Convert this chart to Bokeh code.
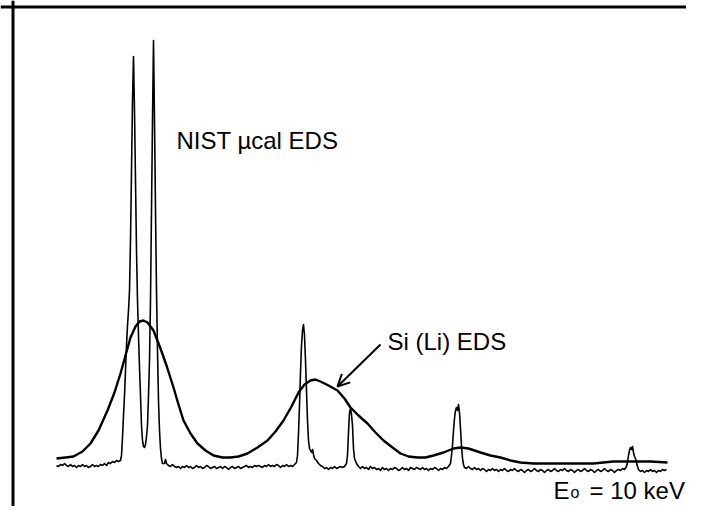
from bokeh.plotting import figure
from bokeh.models import Range1d, Span, Arrow, OpenHead, Label
from bokeh.embed import file_html
from bokeh.resources import INLINE

# ---------------- data (channel, counts) ----------------
# NIST microcalorimeter EDS spectrum
nist_channel = (
    list(range(0, 66, 2))
    + list(range(65, 107))
    + [108, 109, 110, 112]
    + list(range(114, 240, 2))
    + [240, 241, 242, 243, 244, 245, 246, 247, 248, 249, 250, 251, 252, 253, 254,
       255, 256, 257, 258, 260, 262, 264]
    + list(range(266, 290, 2))
    + [290, 291, 292, 293, 294, 295, 296, 297, 298, 300]
    + list(range(302, 394, 2))
    + list(range(394, 409))
    + list(range(410, 570, 2))
    + list(range(570, 583))
    + list(range(584, 612, 2))
)
nist_counts = (
    [15, 14, 16, 15, 17, 15, 14, 16, 14, 15, 13, 15, 14, 16, 14, 15, 13, 14, 16, 14,
     15, 14, 16, 15, 17, 15, 18, 17, 19, 18, 20, 19, 20]
    + [25, 43, 65, 85, 110, 135, 155, 170, 190, 240, 310, 380, 424, 370, 300, 230,
       180, 145, 113, 85, 55, 40, 34, 33, 36, 44, 55, 85, 120, 180, 270, 360, 440,
       360, 270, 190, 130, 80, 50, 32, 22, 17]
    + [17, 21, 17, 15]
    + [14, 16, 14, 13, 14, 12, 14, 13, 15, 13, 14, 12, 13, 15, 13, 14, 12, 13, 15, 14,
       12, 13, 14, 12, 13, 14, 12, 14, 13, 11, 13, 14, 12, 13, 14, 12, 13, 14, 15, 13,
       14, 13, 15, 14, 15, 14, 13, 15, 14, 16, 14, 15, 14, 16, 15, 13, 15, 14, 16, 14,
       15, 14, 16]
    + [18, 25, 47, 75, 108, 135, 150, 156, 145, 120, 90, 60, 40, 32, 30, 28, 31, 26,
       22, 20, 17, 15]
    + [14, 12, 13, 11, 13, 12, 14, 12, 13, 14, 13, 14]
    + [17, 25, 48, 68, 72, 66, 55, 32, 22, 17]
    + [14, 12, 14, 12, 13, 11, 14, 12, 13, 11, 12, 10, 13, 11, 12, 10, 12, 11, 13, 12,
       10, 11, 13, 11, 12, 10, 13, 12, 11, 13, 12, 11, 13, 11, 12, 10, 12, 11, 13, 12,
       10, 12, 11, 13, 12, 14]
    + [17, 25, 35, 50, 62, 70, 73, 70, 76, 68, 52, 35, 22, 16, 13]
    + [12, 14, 12, 11, 13, 11, 12, 10, 12, 11, 9, 11, 10, 12, 10, 11, 9, 11, 10, 12,
       10, 9, 11, 10, 12, 10, 9, 11, 10, 8, 10, 11, 9, 10, 12, 10, 9, 11, 10, 8,
       10, 11, 9, 10, 12, 10, 9, 11, 10, 12, 10, 9, 11, 10, 8, 10, 11, 9, 10, 12,
       10, 9, 11, 10, 8, 10, 11, 9, 10, 12, 10, 9, 11, 10, 8, 10, 11, 10, 12, 11]
    + [14, 18, 25, 30, 33, 31, 34, 28, 24, 22, 18, 14, 11]
    + [9, 10, 8, 10, 9, 11, 9, 10, 8, 10, 9, 11, 10, 11]
)

# Si(Li) EDS spectrum
sili_channel = [0, 9, 17, 26, 34, 42, 51, 58, 64, 69, 74, 79, 83, 87, 91, 97, 104,
                110, 117, 122, 127, 134, 141, 149, 157, 166, 174, 182, 191, 201,
                211, 219, 227, 235, 242, 248, 254, 259, 264, 272, 281, 288, 294,
                302, 311, 319, 327, 336, 344, 352, 361, 369, 377, 387, 397, 404,
                412, 424, 434, 444, 454, 464, 477, 494, 514, 537, 557, 574, 594, 611]
sili_counts = [22, 23, 24, 29, 37, 50, 70, 88, 107, 125, 143, 154, 159, 160, 158,
               150, 132, 115, 93, 76, 60, 47, 37, 30, 25, 23, 23, 24, 27, 33, 40,
               49, 60, 74, 88, 96, 100, 101, 99, 95, 90, 82, 73, 65, 57, 48, 40,
               33, 27, 24, 23, 23, 25, 28, 32, 33, 32, 28, 25, 23, 20, 18, 17, 17,
               17, 17, 19, 19, 19, 18]

label_nist = "NIST µcal EDS"
label_sili = "Si (Li) EDS"
label_e0 = ["E", "o", "= 10 keV"]

# ---------------- figure ----------------
FONT = "Liberation Sans"
p = figure(width=686, height=506, x_range=Range1d(-56, 630), y_range=Range1d(-26, 480),
           x_axis_type=None, y_axis_type=None, output_backend="svg",
           toolbar_location=None, min_border=0)
p.outline_line_color = None
p.background_fill_color = "white"
p.border_fill_color = "white"

# frame lines (left and top)
p.add_layout(Span(location=-43.5, dimension="height", line_color="black", line_width=3))
p.add_layout(Span(location=473.5, dimension="width", line_color="black", line_width=3))

p.line(nist_channel, nist_counts, line_color="black", line_width=1.6, line_join="round")
p.line(sili_channel, sili_counts, line_color="black", line_width=2.4, line_join="round")

p.add_layout(Label(x=120, y=340, text=label_nist, text_font=FONT, text_font_size="24px",
                   text_color="black", text_baseline="alphabetic"))
p.add_layout(Label(x=331, y=139, text=label_sili, text_font=FONT, text_font_size="24px",
                   text_color="black", text_baseline="alphabetic"))
p.add_layout(Arrow(end=OpenHead(size=12, line_width=2, line_color="black"),
                   x_start=324, y_start=136, x_end=281, y_end=94,
                   line_width=2, line_color="black"))

p.add_layout(Label(x=497, y=-10, text=label_e0[0], text_font=FONT, text_font_size="24px",
                   text_color="black", text_baseline="alphabetic"))
p.add_layout(Label(x=514, y=-12, text=label_e0[1], text_font=FONT, text_font_size="16px",
                   text_color="black", text_baseline="alphabetic"))
p.add_layout(Label(x=533, y=-10, text=label_e0[2], text_font=FONT, text_font_size="24px",
                   text_color="black", text_baseline="alphabetic"))

open("out.html", "w").write(file_html(p, INLINE))
